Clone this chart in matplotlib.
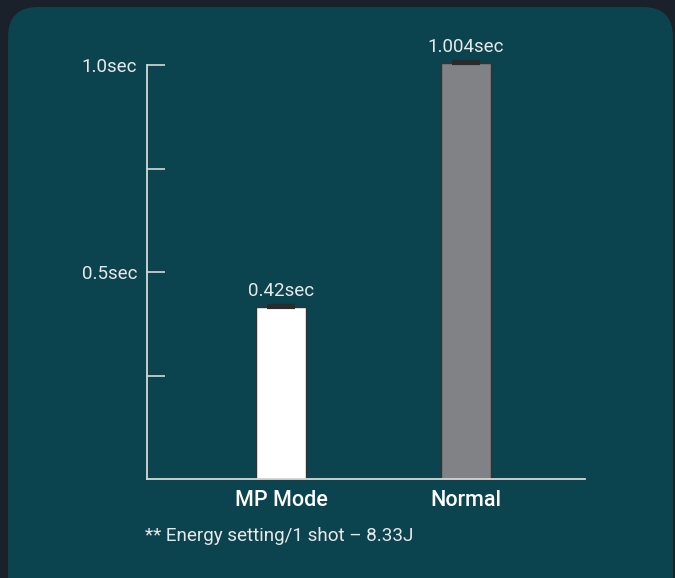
import matplotlib
matplotlib.use("Agg")
import matplotlib.pyplot as plt
from matplotlib.patches import FancyBboxPatch

categories = ["MP Mode", "Normal"]
times = [0.415, 1.004]
value_labels = ["0.42sec", "1.004sec"]
bar_colors = ["#ffffff", "#808285"]
ytick_vals = [0.25, 0.5, 0.75, 1.0]
ytick_labels = ["", "0.5sec", "", "1.0sec"]
footnote = "** Energy setting/1 shot \u2013 8.33J"

bg_outer = "#1b212a"
panel = "#0b434e"
fg = "#e8e8e8"

plt.rcParams["font.family"] = ["Roboto", "DejaVu Sans"]

fig = plt.figure(figsize=(6.75, 5.78), dpi=100)
fig.patch.set_facecolor(bg_outer)

# background panel drawn in pixel coords
bg = fig.add_axes([0, 0, 1, 1])
bg.set_xlim(0, 675)
bg.set_ylim(578, 0)
bg.axis("off")
bg.add_patch(FancyBboxPatch((8, 7), 665, 600, boxstyle="round,pad=0,rounding_size=30",
                            facecolor=panel, edgecolor="none"))

ax = fig.add_axes([147 / 675, 1 - 479 / 578, 438 / 675, (479 - 65) / 578])
ax.set_facecolor("none")
x = range(len(categories))
ax.bar(x, times, width=0.27, color=bar_colors, edgecolor="#333333", linewidth=1.0,
       clip_on=False, zorder=2)
# dark cap strip on top of each bar
ax.errorbar(x, times, yerr=[[0, 0], [0.004, 0.004]], fmt="none", ecolor="#2a2a2a",
            elinewidth=0, capsize=10, capthick=3, clip_on=False, zorder=3)
for xi, v, lab in zip(x, times, value_labels):
    ax.text(xi, v + 0.018, lab, ha="center", va="bottom", color=fg, fontsize=13.5)

ax.set_xlim(-0.724, 1.643)
ax.set_ylim(0, 1.0)
ax.set_yticks(ytick_vals)
ax.set_yticklabels(ytick_labels, color=fg, fontsize=13.5)
ax.set_xticks(list(x))
ax.set_xticklabels(categories, color="white", fontsize=15.5, fontweight="medium")
ax.tick_params(axis="y", direction="in", length=13, width=1.2, color="#d8d8d8", pad=7)
ax.tick_params(axis="x", length=0, pad=8)
for s in ["top", "right"]:
    ax.spines[s].set_visible(False)
for s in ["left", "bottom"]:
    ax.spines[s].set_color("#d8d8d8")
    ax.spines[s].set_linewidth(1.3)

fig.text(145 / 675, 1 - 536 / 578, footnote, color=fg, fontsize=13.6,
         ha="left", va="center")

fig.savefig("out.png", dpi=100, facecolor=bg_outer)
